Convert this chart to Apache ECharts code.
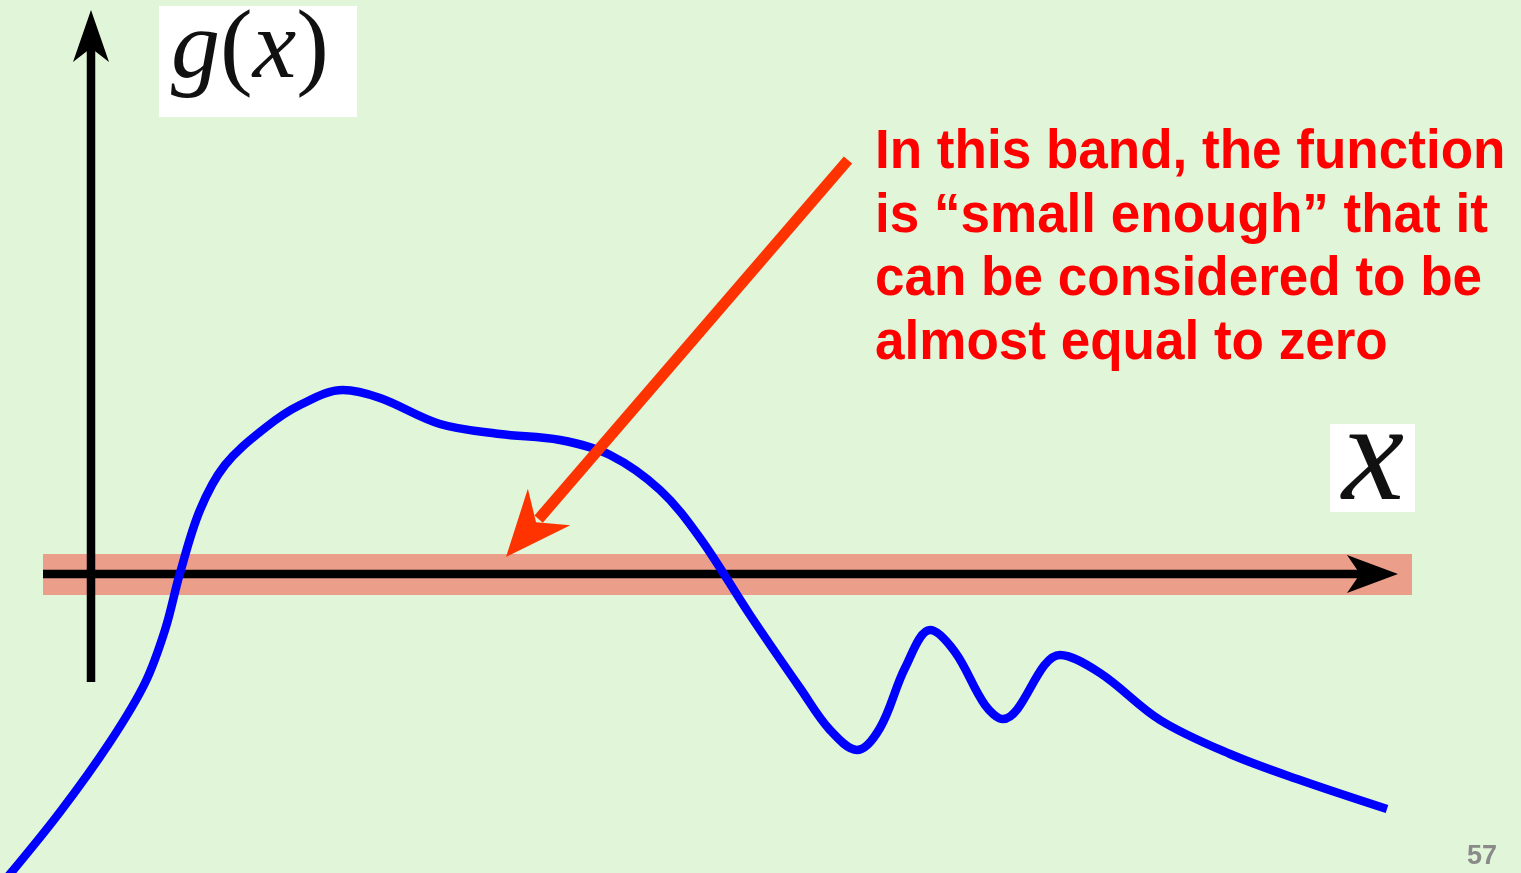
<!DOCTYPE html>
<html>
<head>
<meta charset="utf-8">
<title>g(x) small band</title>
<script src="https://cdn.jsdelivr.net/npm/echarts@6/dist/echarts.min.js"></script>
<style>
  html, body { margin: 0; padding: 0; background: #e1f5d8; }
  #chart { width: 1521px; height: 873px; }
</style>
</head>
<body>
<div id="chart"></div>
<script>
// curve (x, g(x)); origin where the two axes cross
const curveX = [-0.86, -0.31, 0.19, 0.54, 0.74, 0.89, 1.09, 1.34, 1.74, 2.09, 2.52, 2.89, 3.49, 4.09, 4.69, 5.19,
  5.69, 6.09, 6.59, 7.09, 7.39, 7.66, 7.89, 8.14, 8.39, 8.64, 8.94, 9.12, 9.69, 10.09, 10.69, 11.39, 12.09, 12.96];
const curveY = [-3.06, -2.38, -1.68, -1.09, -0.56, 0.01, 0.64, 1.09, 1.46, 1.69, 1.84, 1.76, 1.50, 1.40, 1.34, 1.19,
  0.84, 0.36, -0.41, -1.14, -1.56, -1.76, -1.54, -0.94, -0.56, -0.78, -1.31, -1.45, -0.81, -0.99, -1.46, -1.80, -2.06, -2.35];

// the "almost zero" band and the axes extents
const bandX = [-0.48, 13.21];
const bandY = [-0.21, 0.20];
const xAxisEnds = [-0.48, 13.07];
const yAxisEnds = [-1.08, 5.64];

// red pointer: shaft start, tip
const pointerFrom = [7.57, 4.14];
const pointerTip = [4.15, 0.17];

const noteLines = [
  "In this band, the function",
  "is \u201csmall enough\u201d that it",
  "can be considered to be",
  "almost equal to zero"
];

const BG = "#e1f5d8";
const BAND = "#eb9e8a";
const CURVE = "#0000ff";
const POINTER = "#ff3300";
const NOTE = "#ff0000";

const myChart = echarts.init(document.getElementById("chart"));

myChart.setOption({
  backgroundColor: BG,
  animation: false,
  grid: { left: 0, right: 0, top: 0, bottom: 0 },
  xAxis: { type: "value", min: -0.91, max: 14.30, show: false },
  yAxis: { type: "value", min: -2.99, max: 5.74, show: false },
  series: [
    {
      name: "g(x)",
      type: "line",
      z: 2,
      smooth: 0.35,
      symbol: "none",
      lineStyle: { color: CURVE, width: 8.5 },
      data: curveX.map((x, i) => [x, curveY[i]])
    }
  ]
});

function px(x, y) {
  return myChart.convertToPixel({ gridIndex: 0 }, [x, y]);
}

function buildGraphics() {
  const els = [];

  // band
  const b0 = px(bandX[0], bandY[1]);
  const b1 = px(bandX[1], bandY[0]);
  els.push({
    type: "rect", z: 0,
    shape: { x: b0[0], y: b0[1], width: b1[0] - b0[0], height: b1[1] - b0[1] },
    style: { fill: BAND }
  });

  // horizontal axis with arrow
  const hs = px(xAxisEnds[0], 0);
  const ht = px(xAxisEnds[1], 0);
  els.push({
    type: "line", z: 1,
    shape: { x1: hs[0], y1: hs[1], x2: ht[0] - 38, y2: ht[1] },
    style: { stroke: "#000", lineWidth: 8.5 }
  });
  els.push({
    type: "polygon", z: 1,
    shape: { points: [[ht[0], ht[1]], [ht[0] - 51, ht[1] - 19], [ht[0] - 38, ht[1]], [ht[0] - 51, ht[1] + 19]] },
    style: { fill: "#000" }
  });

  // vertical axis with arrow
  const vs = px(0, yAxisEnds[0]);
  const vt = px(0, yAxisEnds[1]);
  els.push({
    type: "line", z: 1,
    shape: { x1: vs[0], y1: vs[1], x2: vt[0], y2: vt[1] + 38 },
    style: { stroke: "#000", lineWidth: 8.5 }
  });
  els.push({
    type: "polygon", z: 1,
    shape: { points: [[vt[0], vt[1]], [vt[0] - 18, vt[1] + 52], [vt[0], vt[1] + 38], [vt[0] + 18, vt[1] + 52]] },
    style: { fill: "#000" }
  });

  // red pointer
  const pf = px(pointerFrom[0], pointerFrom[1]);
  const pt = px(pointerTip[0], pointerTip[1]);
  const dx = pt[0] - pf[0], dy = pt[1] - pf[1];
  const len = Math.sqrt(dx * dx + dy * dy);
  const ux = dx / len, uy = dy / len;
  const nx = -uy, ny = ux;
  const headLen = 66, notch = 46, half = 28;
  const base = [pt[0] - ux * headLen, pt[1] - uy * headLen];
  const nt = [pt[0] - ux * notch, pt[1] - uy * notch];
  els.push({
    type: "line", z: 3,
    shape: { x1: pf[0], y1: pf[1], x2: nt[0] - ux * 4, y2: nt[1] - uy * 4 },
    style: { stroke: POINTER, lineWidth: 11 }
  });
  els.push({
    type: "polygon", z: 3,
    shape: { points: [pt, [base[0] + nx * half, base[1] + ny * half], nt, [base[0] - nx * half, base[1] - ny * half]] },
    style: { fill: POINTER }
  });

  // axis labels in white boxes
  els.push({ type: "rect", z: 3, shape: { x: 159, y: 6, width: 198, height: 111 }, style: { fill: "#fff" } });
  els.push({
    type: "text", z: 4, x: 250, y: 51,
    style: {
      text: "{i|g}{r|(}{i|x}{r|)}",
      align: "center", verticalAlign: "middle",
      rich: {
        i: { fontFamily: "Liberation Serif", fontStyle: "italic", fontSize: 98, fill: "#111" },
        r: { fontFamily: "Liberation Serif", fontSize: 98, fill: "#111" }
      }
    }
  });
  els.push({ type: "rect", z: 3, shape: { x: 1330, y: 424, width: 85, height: 88 }, style: { fill: "#fff" } });
  els.push({
    type: "text", z: 4, x: 1373, y: 462,
    style: {
      text: "x", align: "center", verticalAlign: "middle",
      fontFamily: "Liberation Serif", fontStyle: "italic", fontSize: 140, fill: "#111"
    }
  });

  // note, condensed bold sans
  noteLines.forEach((t, i) => {
    els.push({
      type: "text", z: 4, x: 875, y: 153 + i * 63.5, scaleX: 0.947,
      style: {
        text: t, align: "left", verticalAlign: "middle",
        fontFamily: "'Liberation Sans', Arial, sans-serif",
        fontWeight: "bold", fontSize: 56, fill: NOTE
      }
    });
  });

  // slide number
  els.push({
    type: "text", z: 4, x: 1497, y: 857,
    style: {
      text: "57", align: "right", verticalAlign: "middle",
      fontFamily: "'Liberation Sans', sans-serif", fontWeight: "bold", fontSize: 27, fill: "#8a8a8a"
    }
  });

  return els;
}

myChart.setOption({ graphic: { elements: buildGraphics() } });
</script>
</body>
</html>
